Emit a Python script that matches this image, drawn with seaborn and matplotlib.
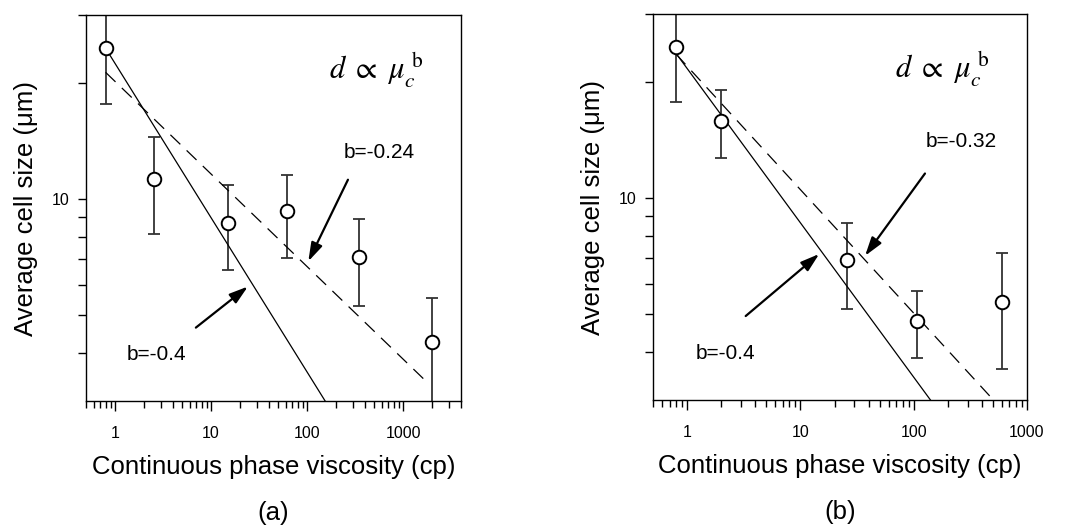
import numpy as np
import pandas as pd
import matplotlib
matplotlib.use("Agg")
import matplotlib.pyplot as plt
from matplotlib.ticker import LogLocator, FixedLocator, FixedFormatter, NullFormatter
import seaborn as sns

# panel (a)
visc_a = [0.8, 2.55, 15, 62, 350, 2000]
size_a = [24.6, 11.3, 8.7, 9.3, 7.1, 4.26]
err_a = [7.0, 3.2, 2.15, 2.25, 1.8, 1.3]

# panel (b)
visc_b = [0.8, 2.0, 26, 108, 600]
size_b = [24.6, 15.9, 6.9, 4.8, 5.4]
err_b = [6.8, 3.2, 1.75, 0.95, 1.8]

# power-law fits d = A * mu^b  (A, b, x start, x end)
fits_a = {"solid": (22.5, -0.4, 0.8, 160), "dashed": (20.2, -0.24, 0.8, 1700)}
fits_b = {"solid": (21.7, -0.4, 0.8, 160), "dashed": (22.0, -0.32, 0.8, 480)}

sns.set_style("ticks")
plt.rcParams["font.family"] = ["Liberation Sans", "DejaVu Sans"]
plt.rcParams["mathtext.fontset"] = "stix"
plt.rcParams["text.color"] = "black"
plt.rcParams["axes.labelcolor"] = "black"

fig = plt.figure(figsize=(10.67, 5.25), dpi=100)
ax_a = fig.add_axes([0.0806, 0.2362, 0.3515, 0.7352])
ax_b = fig.add_axes([0.612, 0.238, 0.3505, 0.735])


def draw_panel(ax, visc, size, err, fits, xmax, panel, notes):
    df = pd.DataFrame({"visc": visc, "size": size})
    ax.errorbar(visc, size, yerr=err, fmt="none", ecolor="#333333",
                elinewidth=1.3, capsize=4, capthick=1.3, zorder=2)
    for style, (A, b, x0, x1) in fits.items():
        xs = np.array([x0, x1])
        line = pd.DataFrame({"x": xs, "y": A * xs ** b})
        sns.lineplot(data=line, x="x", y="y", ax=ax, color="black", lw=0.9,
                     linestyle="-" if style == "solid" else (0, (11, 7)), zorder=3)
    sns.scatterplot(data=df, x="visc", y="size", ax=ax, s=95, marker="o",
                    facecolor="white", edgecolor="black", linewidth=1.4, zorder=4)

    ax.set_xscale("log")
    ax.set_yscale("log")
    ax.set_xlim(0.5, xmax)
    ax.set_ylim(3, 30)
    ax.xaxis.set_major_locator(FixedLocator([1, 10, 100, 1000]))
    ax.xaxis.set_major_formatter(FixedFormatter(["1", "10", "100", "1000"]))
    ax.xaxis.set_minor_locator(LogLocator(base=10, subs=np.arange(2, 10), numticks=20))
    ax.xaxis.set_minor_formatter(NullFormatter())
    ax.yaxis.set_major_locator(FixedLocator([10]))
    ax.yaxis.set_major_formatter(FixedFormatter(["10"]))
    ax.yaxis.set_minor_locator(FixedLocator([4, 5, 6, 7, 8, 9, 20, 30]))
    ax.yaxis.set_minor_formatter(NullFormatter())
    ax.tick_params(which="major", direction="out", length=7, width=1, labelsize=11.5,
                   pad=11, colors="black")
    ax.tick_params(which="minor", direction="out", length=5, width=1, colors="black")
    ax.tick_params(axis="y", which="major", length=6, pad=6)
    ax.tick_params(axis="y", which="minor", length=6)
    for sp in ax.spines.values():
        sp.set_visible(True)
        sp.set_linewidth(1.0)
        sp.set_color("black")

    ax.set_xlabel("Continuous phase viscosity (cp)", fontsize=18.5, labelpad=10)
    ax.set_ylabel("Average cell size (\u03bcm)", fontsize=18.5, labelpad=10)
    ax.text(0.5, -0.29, panel, transform=ax.transAxes, ha="center", va="center",
            fontsize=18.5)

    ax.text(0.9, 0.86, r"$d\ \propto\ \mu_c^{\ \mathrm{b}}$", transform=ax.transAxes,
            ha="right", va="center", fontsize=22)
    for label, (tx, ty), (hx, hy), (lx, ly) in notes:
        ax.annotate("", xy=(hx, hy), xytext=(tx, ty),
                    arrowprops=dict(arrowstyle="-|>,head_length=0.8,head_width=0.25",
                                    color="black", lw=1.6, mutation_scale=14))
        ax.text(lx, ly, label, ha="center", va="center", fontsize=15)


draw_panel(ax_a, visc_a, size_a, err_a, fits_a, 4000, "(a)",
           [("b=-0.24", (274, 11.4), (100, 6.8), (560, 13.2)),
            ("b=-0.4", (6.6, 4.6), (25.5, 6.0), (2.7, 3.96))])
draw_panel(ax_b, visc_b, size_b, err_b, fits_b, 1000, "(b)",
           [("b=-0.32", (130, 11.75), (36, 7.0), (261, 14.0)),
            ("b=-0.4", (3.15, 4.9), (15.3, 7.25), (2.2, 3.96))])

fig.savefig("out.png", dpi=100)
